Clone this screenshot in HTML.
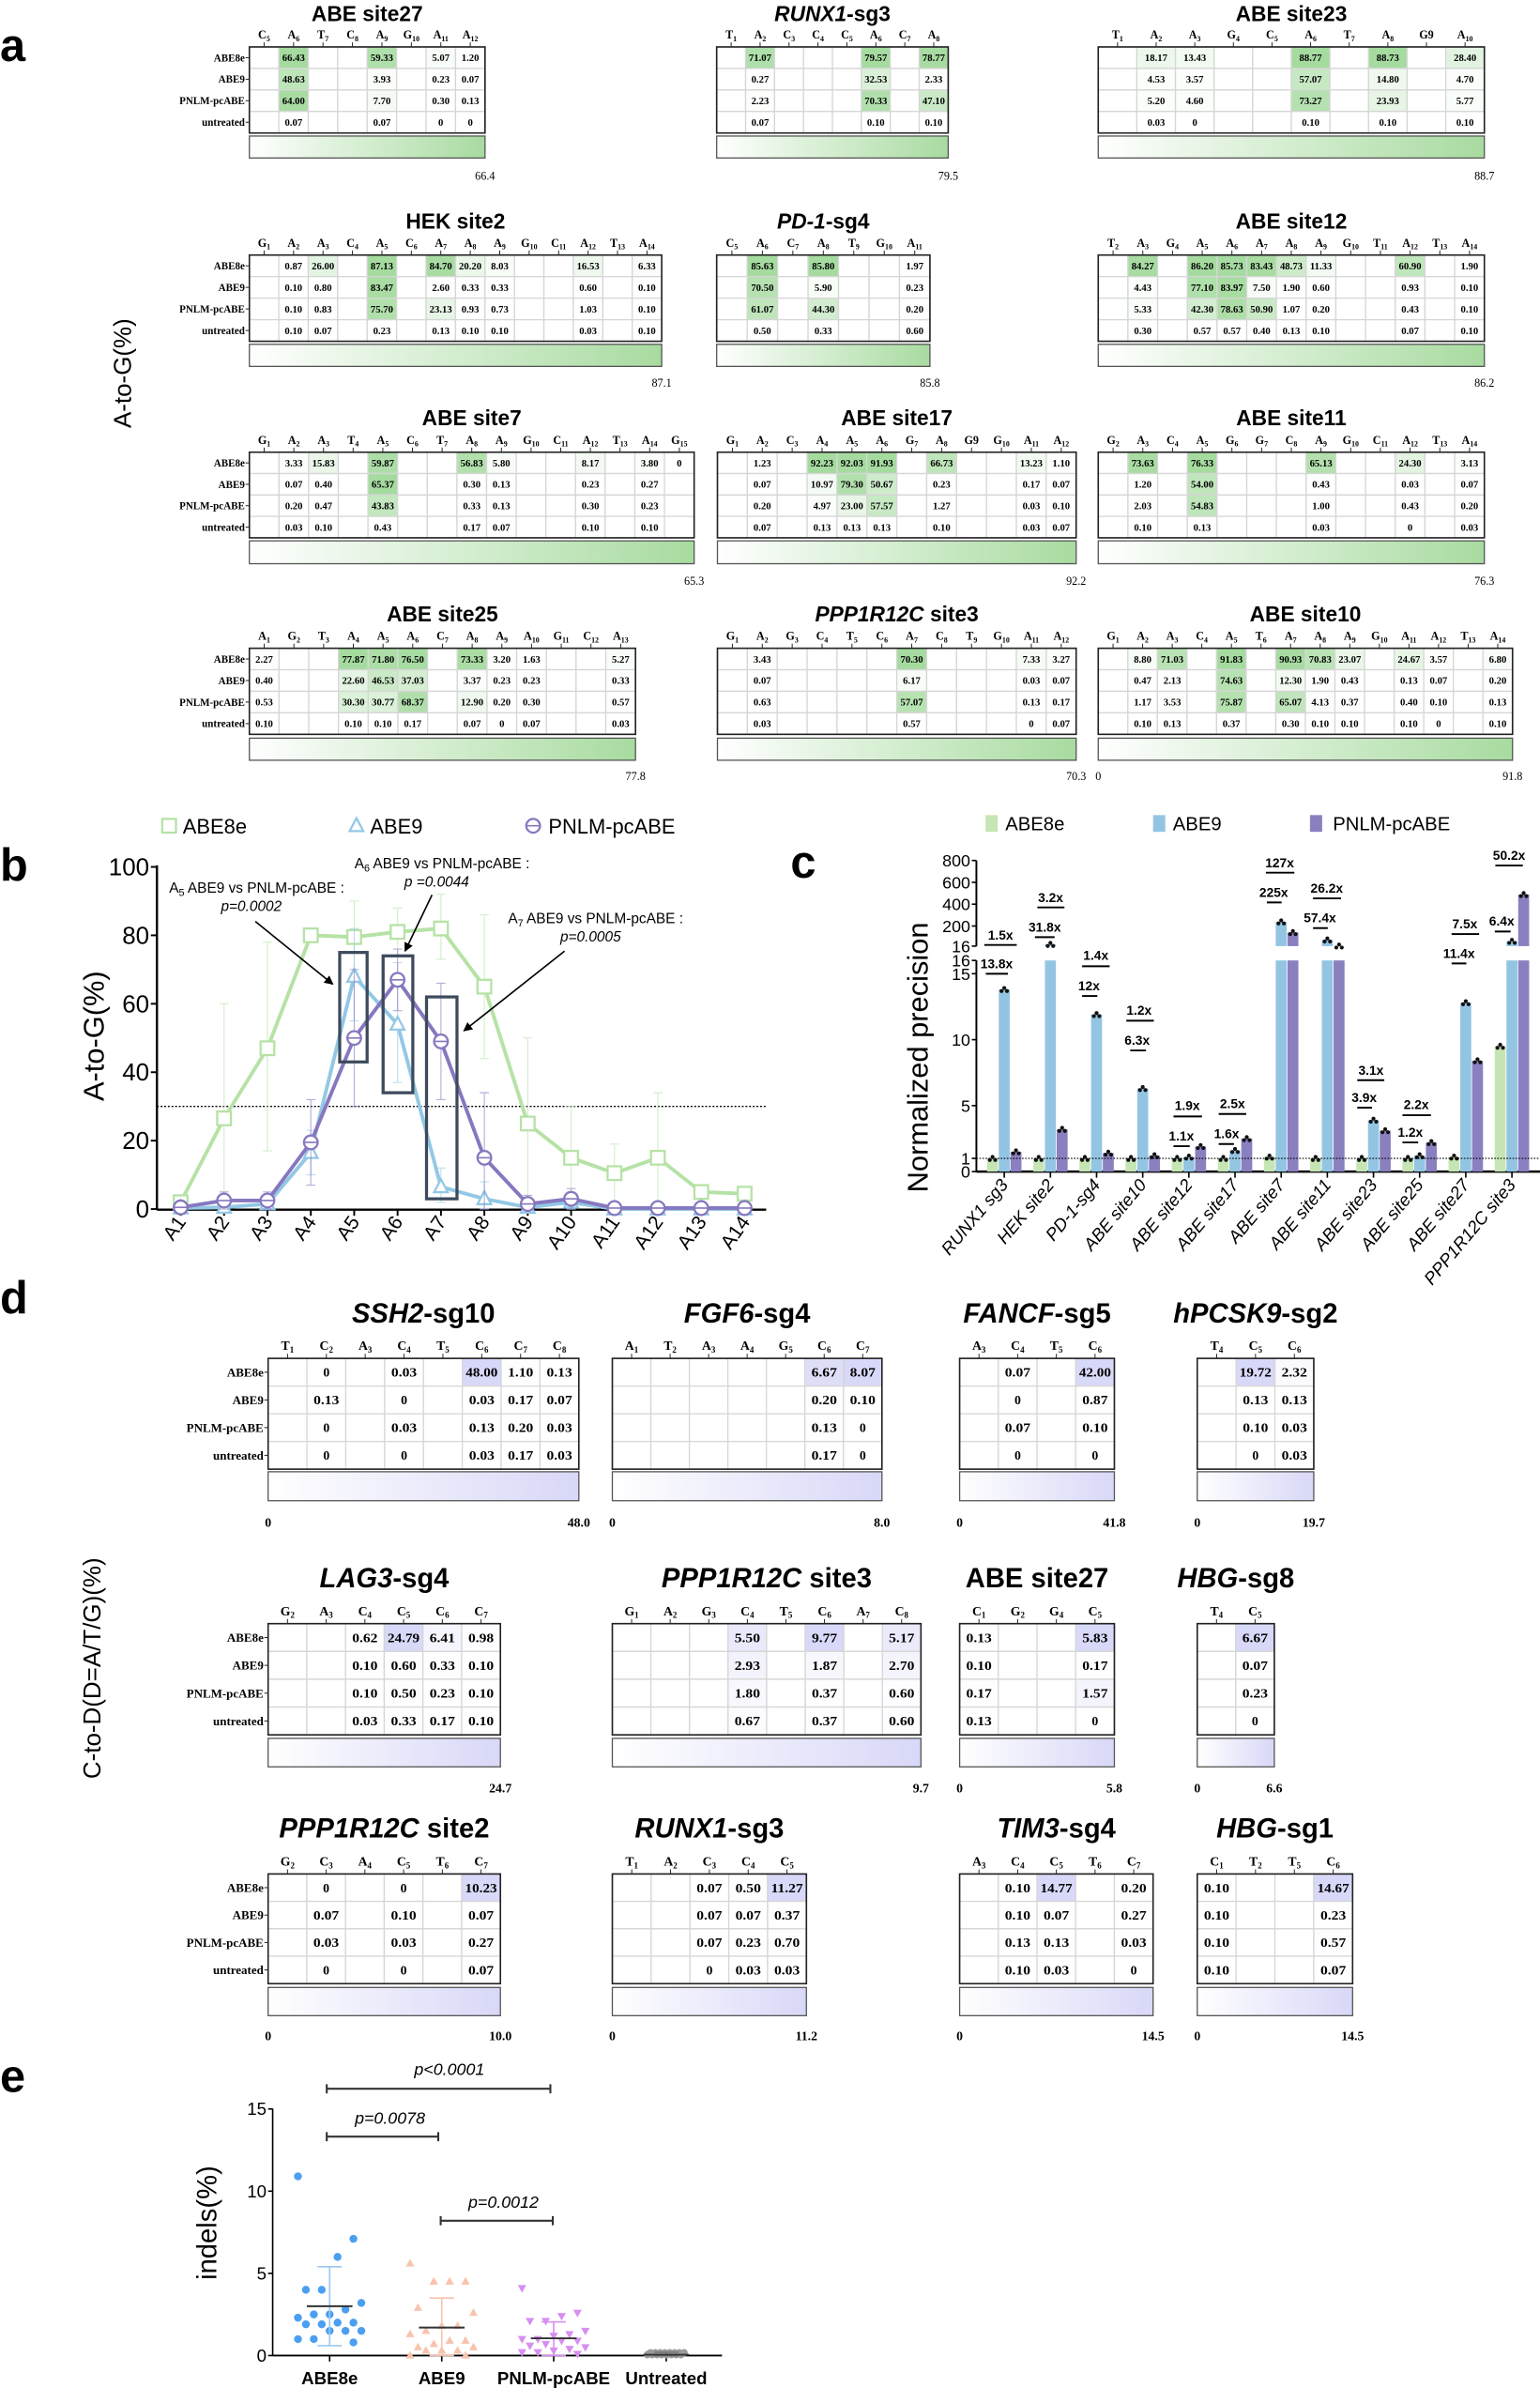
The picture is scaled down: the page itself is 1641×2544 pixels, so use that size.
<!DOCTYPE html>
<html><head><meta charset="utf-8"><style>
html,body{margin:0;padding:0;background:#fff}
svg{display:block}
</style></head><body>
<svg id="s" xmlns="http://www.w3.org/2000/svg" width="1641" height="2544" viewBox="0 0 1011 1567.4">
<defs>
<linearGradient id="gg" x1="0" x2="1" y1="0" y2="0"><stop offset="0" stop-color="#ffffff"/><stop offset="1" stop-color="#a8dba0"/></linearGradient>
<linearGradient id="gp" x1="0" x2="1" y1="0" y2="0"><stop offset="0" stop-color="#ffffff"/><stop offset="1" stop-color="#d8d8f8"/></linearGradient>
<marker id="ar" viewBox="0 0 10 10" refX="9" refY="5" markerWidth="6" markerHeight="6" orient="auto"><path d="M0,0 L10,5 L0,10 z" fill="#000"/></marker>
</defs>
<rect width="1011" height="1567.4" fill="#fff"/>
</svg>
<script>
const NS='http://www.w3.org/2000/svg';const S=document.getElementById('s');
function el(t,a,p,tx){const e=document.createElementNS(NS,t);for(const k in a)e.setAttribute(k,a[k]);if(tx!==undefined)e.textContent=tx;(p||S).appendChild(e);return e;}
function txt(x,y,s,a){a=Object.assign({x:x,y:y},a||{});return el('text',a,S,s);}
function sub(x,y,lab,a){const t=el('text',Object.assign({x:x,y:y},a));const m=lab.match(/^([A-Za-z])(\d*)$/);
 if(m&&m[2]&&lab!=='G9'){el('tspan',{},t,m[1]);el('tspan',{'font-size':'0.65em',dy:'1.8'},t,m[2]);}else t.textContent=lab;return t;}
function title(x,y,parts,fs){const t=el('text',{x:x,y:y,'text-anchor':'middle','font-family':'Liberation Sans, sans-serif','font-weight':'bold','font-size':fs});
 parts.forEach(p=>{el('tspan',p[1]?{'font-style':'italic'}:{},t,p[0]);});}
const RL=['ABE8e','ABE9','PNLM-pcABE','untreated'];
function heat(o){const n=o.cols.length,cw=o.w/n,rh=o.h/4;const C=o.pur?[216,216,248]:[166,219,160];
 title(o.x+o.w/2,o.ty,o.title,o.tfs);
 o.cols.forEach((c,i)=>{const cx=o.x+cw*(i+.5);el('line',{x1:cx,x2:cx,y1:o.y-3,y2:o.y,stroke:'#222','stroke-width':0.6});
  sub(cx,o.y-5.5,c,{'text-anchor':'middle','font-family':'Liberation Serif, serif','font-weight':'bold','font-size':o.hfs});});
 o.rows.forEach((r,j)=>{r.forEach((v,i)=>{const f=v===''?0:Math.min(1,v/o.max);const col='rgb('+C.map(c=>Math.round(255+(c-255)*f)).join(',')+')';
  el('rect',{x:o.x+cw*i,y:o.y+rh*j,width:cw,height:rh,fill:col,stroke:'#d6d6d6','stroke-width':0.8});
  if(v!==''){const s=(typeof v==='number')?(v===0?'0':v.toFixed(2)):v;const a={'text-anchor':'middle','font-family':'Liberation Serif, serif','font-weight':'bold','font-size':o.vfs};
   if(o.pur&&s.length>1){a.textLength=Math.min(s.length*4.2,cw-2);a.lengthAdjust='spacingAndGlyphs';}
   txt(o.x+cw*(i+.5),o.y+rh*j+rh/2+o.vfs*0.35,s,a);}});
  if(o.rl){el('line',{x1:o.x-2.5,x2:o.x,y1:o.y+rh*(j+.5),y2:o.y+rh*(j+.5),stroke:'#222','stroke-width':0.6});
   txt(o.x-3,o.y+rh*(j+.5)+o.rfs*0.35,RL[j],{'text-anchor':'end','font-family':'Liberation Serif, serif','font-weight':'bold','font-size':o.rfs});}});
 el('rect',{x:o.x,y:o.y,width:o.w,height:o.h,fill:'none',stroke:'#222','stroke-width':1});
 el('rect',{x:o.x,y:o.cy,width:o.w,height:o.ch,fill:o.pur?'url(#gp)':'url(#gg)',stroke:'#555','stroke-width':0.8});
 txt(o.x+o.w,o.ly,o.maxl,{'text-anchor':'middle','font-family':'Liberation Serif, serif','font-size':o.lfs,'font-weight':o.pur?'bold':'normal'});
 if(o.zero)txt(o.x,o.ly,'0',{'text-anchor':'middle','font-family':'Liberation Serif, serif','font-size':o.lfs,'font-weight':o.pur?'bold':'normal'});}

// ---------- Panel a ----------
const RA=[{ty:14,y:30.8,h:56.5,cy:89.3,ch:14.4,ly:118},{ty:150,y:167.4,h:56.6,cy:226,ch:14.5,ly:254},{ty:279,y:296.8,h:56.2,cy:355,ch:15,ly:384},{ty:408,y:425.5,h:56.5,cy:484.5,ch:14.5,ly:512}];
function A(r,x,w,t,cols,rows,max,rl,zero){const R=RA[r];heat({x:x,w:w,y:R.y,h:R.h,cy:R.cy,ch:R.ch,ly:R.ly,ty:R.ty,title:t,tfs:14,cols:cols,rows:rows,max:max,maxl:max.toFixed(1),rl:rl,zero:zero,hfs:7.5,vfs:6.6,rfs:6.8,lfs:7.5});}
const E='';
A(0,163.7,154.7,[['ABE site27']],['C5','A6','T7','C8','A9','G10','A11','A12'],[[E,66.43,E,E,59.33,E,5.07,1.20],[E,48.63,E,E,3.93,E,0.23,0.07],[E,64.00,E,E,7.70,E,0.30,0.13],[E,0.07,E,E,0.07,E,0,0]],66.4,true);
A(0,470.5,152,[['RUNX1',1],['-sg3']],['T1','A2','C3','C4','C5','A6','C7','A8'],[[E,71.07,E,E,E,79.57,E,78.77],[E,0.27,E,E,E,32.53,E,2.33],[E,2.23,E,E,E,70.33,E,47.10],[E,0.07,E,E,E,0.10,E,0.10]],79.5,false);
A(0,721,253.5,[['ABE site23']],['T1','A2','A3','G4','C5','A6','T7','A8','G9','A10'],[[E,18.17,13.43,E,E,88.77,E,88.73,E,28.40],[E,4.53,3.57,E,E,57.07,E,14.80,E,4.70],[E,5.20,4.60,E,E,73.27,E,23.93,E,5.77],[E,0.03,0,E,E,0.10,E,0.10,E,0.10]],88.7,false);
A(1,163.7,270.7,[['HEK site2']],['G1','A2','A3','C4','A5','C6','A7','A8','A9','G10','C11','A12','T13','A14'],[[E,0.87,26.00,E,87.13,E,84.70,20.20,8.03,E,E,16.53,E,6.33],[E,0.10,0.80,E,83.47,E,2.60,0.33,0.33,E,E,0.60,E,0.10],[E,0.10,0.83,E,75.70,E,23.13,0.93,0.73,E,E,1.03,E,0.10],[E,0.10,0.07,E,0.23,E,0.13,0.10,0.10,E,E,0.03,E,0.10]],87.1,true);
A(1,470.5,140,[['PD-1',1],['-sg4']],['C5','A6','C7','A8','T9','G10','A11'],[[E,85.63,E,85.80,E,E,1.97],[E,70.50,E,5.90,E,E,0.23],[E,61.07,E,44.30,E,E,0.20],[E,0.50,E,0.33,E,E,0.60]],85.8,false);
A(1,721,253.5,[['ABE site12']],['T2','A3','G4','A5','A6','A7','A8','A9','G10','T11','A12','T13','A14'],[[E,84.27,E,86.20,85.73,83.43,48.73,11.33,E,E,60.90,E,1.90],[E,4.43,E,77.10,83.97,7.50,1.90,0.60,E,E,0.93,E,0.10],[E,5.33,E,42.30,78.63,50.90,1.07,0.20,E,E,0.43,E,0.10],[E,0.30,E,0.57,0.57,0.40,0.13,0.10,E,E,0.07,E,0.10]],86.2,false);
A(2,163.7,292,[['ABE site7']],['G1','A2','A3','T4','A5','C6','T7','A8','A9','G10','C11','A12','T13','A14','G15'],[[E,3.33,15.83,E,59.87,E,E,56.83,5.80,E,E,8.17,E,3.80,0],[E,0.07,0.40,E,65.37,E,E,0.30,0.13,E,E,0.23,E,0.27,E],[E,0.20,0.47,E,43.83,E,E,0.33,0.13,E,E,0.30,E,0.23,E],[E,0.03,0.10,E,0.43,E,E,0.17,0.07,E,E,0.10,E,0.10,E]],65.3,true);
A(2,471,235.5,[['ABE site17']],['G1','A2','C3','A4','A5','A6','G7','A8','G9','G10','A11','A12'],[[E,1.23,E,92.23,92.03,91.93,E,66.73,E,E,13.23,1.10],[E,0.07,E,10.97,79.30,50.67,E,0.23,E,E,0.17,0.07],[E,0.20,E,4.97,23.00,57.57,E,1.27,E,E,0.03,0.10],[E,0.07,E,0.13,0.13,0.13,E,0.10,E,E,0.03,0.07]],92.2,false);
A(2,721,253.5,[['ABE site11']],['G2','A3','C4','A5','G6','G7','C8','A9','G10','C11','A12','T13','A14'],[[E,73.63,E,76.33,E,E,E,65.13,E,E,24.30,E,3.13],[E,1.20,E,54.00,E,E,E,0.43,E,E,0.03,E,0.07],[E,2.03,E,54.83,E,E,E,1.00,E,E,0.43,E,0.20],[E,0.10,E,0.13,E,E,E,0.03,E,E,0,E,0.03]],76.3,false);
A(3,163.7,253.5,[['ABE site25']],['A1','G2','T3','A4','A5','A6','C7','A8','A9','A10','G11','C12','A13'],[[2.27,E,E,77.87,71.80,76.50,E,73.33,3.20,1.63,E,E,5.27],[0.40,E,E,22.60,46.53,37.03,E,3.37,0.23,0.23,E,E,0.33],[0.53,E,E,30.30,30.77,68.37,E,12.90,0.20,0.30,E,E,0.57],[0.10,E,E,0.10,0.10,0.17,E,0.07,0,0.07,E,E,0.03]],77.8,true);
A(3,471,235.5,[['PPP1R12C',1],[' site3']],['G1','A2','G3','C4','T5','C6','A7','C8','T9','G10','A11','A12'],[[E,3.43,E,E,E,E,70.30,E,E,E,7.33,3.27],[E,0.07,E,E,E,E,6.17,E,E,E,0.03,0.07],[E,0.63,E,E,E,E,57.07,E,E,E,0.13,0.17],[E,0.03,E,E,E,E,0.57,E,E,E,0,0.07]],70.3,false);
A(3,721,272,[['ABE site10']],['G1','A2','A3','C4','A5','T6','A7','A8','A9','G10','A11','A12','T13','A14'],[[E,8.80,71.03,E,91.83,E,90.93,70.83,23.07,E,24.67,3.57,E,6.80],[E,0.47,2.13,E,74.63,E,12.30,1.90,0.43,E,0.13,0.07,E,0.20],[E,1.17,3.53,E,75.87,E,65.07,4.13,0.37,E,0.40,0.10,E,0.13],[E,0.10,0.13,E,0.37,E,0.30,0.10,0.10,E,0.10,0,E,0.10]],91.8,false,true);
txt(0,40,'a',{'font-family':'Liberation Sans, sans-serif','font-weight':'bold','font-size':30});
txt(0,0,'A-to-G(%)',{transform:'translate(86,245) rotate(-90)','text-anchor':'middle','font-family':'Liberation Sans, sans-serif','font-size':16});

// ---------- Panel b ----------
(function(){const X0=118.6,DX=28.48,yv=v=>793.6-v*2.246,xi=i=>X0+i*DX;const F='Liberation Sans, sans-serif';
txt(0,578,'b',{'font-family':F,'font-weight':'bold','font-size':30});
el('line',{x1:103,x2:103,y1:568,y2:794,stroke:'#000','stroke-width':1.5});el('line',{x1:103,x2:503,y1:794,y2:794,stroke:'#000','stroke-width':1.5});
[0,20,40,60,80,100].forEach(v=>{el('line',{x1:99,x2:103,y1:yv(v),y2:yv(v),stroke:'#000','stroke-width':1.2});txt(98,yv(v)+5.5,String(v),{'text-anchor':'end','font-family':F,'font-size':16});});
for(let i=0;i<14;i++){el('line',{x1:xi(i),x2:xi(i),y1:794,y2:798,stroke:'#000','stroke-width':1.2});txt(0,0,'A'+(i+1),{transform:'translate('+(xi(i)+4)+',802) rotate(-55)','text-anchor':'end','font-family':F,'font-size':13});}
txt(0,0,'A-to-G(%)',{transform:'translate(68,680) rotate(-90)','text-anchor':'middle','font-family':F,'font-size':19});
el('line',{x1:103,x2:503,y1:yv(30),y2:yv(30),stroke:'#000','stroke-width':0.8,'stroke-dasharray':'1.2,1.2'});
const D=[{c:'#b6e2a6',v:[2,26.5,47,80,79.5,81,82,65,25,15,10.5,15,5,4.5],e:[[0,4],[0,60],[17,78],[78,82],[69,90],[74,88],[73,92],[44,86],[0,50],[0,30],[2,19],[0,34],[4,6],[3,6]],m:'sq'},
{c:'#93c8e5',v:[0.3,0.5,1.5,16.5,68,54,6.5,3,0.5,2,0,0,0,0],e:[[0,1],[0,2],[0,4],[10,23],[55,82],[37,72],[2,12],[0,8],[0,3],[0,5],[0,1],[0,1],[0,1],[0,1]],m:'tr'},
{c:'#8777bf',v:[0.5,2.5,2.5,19.5,50,67,49,15,1.5,3,0.3,0.3,0.3,0.3],e:[[0,2],[0,5],[0,5],[7,32],[30,70],[58,76],[32,66],[0,34],[0,4],[0,6],[0,1],[0,1],[0,1],[0,1]],m:'ci'}];
D.forEach(d=>{d.e.forEach((e,i)=>{const x=xi(i);el('path',{d:'M'+x+','+yv(e[0])+'V'+yv(e[1])+'M'+(x-3)+','+yv(e[0])+'h6M'+(x-3)+','+yv(e[1])+'h6',stroke:d.c,'stroke-width':0.7,fill:'none',opacity:0.6});});
 el('polyline',{points:d.v.map((v,i)=>xi(i)+','+yv(v)).join(' '),fill:'none',stroke:d.c,'stroke-width':2.4});
 d.v.forEach((v,i)=>{mk(d.m,xi(i),yv(v),d.c);});});
function mk(m,x,y,c){const a={fill:'#fff',stroke:c,'stroke-width':1.4};if(m==='sq')el('rect',Object.assign({x:x-4.5,y:y-4.5,width:9,height:9},a));else if(m==='tr')el('path',Object.assign({d:'M'+x+','+(y-5)+'L'+(x+4.5)+','+(y+3.5)+'L'+(x-4.5)+','+(y+3.5)+'z'},a));else{el('circle',Object.assign({cx:x,cy:y,r:4.5},a));el('line',{x1:x-4,x2:x+4,y1:y,y2:y,stroke:c,'stroke-width':1});}}
mk('sq',111,542,'#b6e2a6');txt(120,547,'ABE8e',{'font-family':F,'font-size':13.5});
mk('tr',234,542,'#93c8e5');txt(243,547,'ABE9',{'font-family':F,'font-size':13.5});
mk('ci',350,542,'#8777bf');txt(360,547,'PNLM-pcABE',{'font-family':F,'font-size':13.5});
[[223,75,241,43],[251.5,74,271,34],[280,62,300,3]].forEach(b=>el('rect',{x:b[0],y:yv(b[1]),width:b[2]-b[0],height:yv(b[3])-yv(b[1]),fill:'none',stroke:'#3d4a5c','stroke-width':2}));
function ann(x,y,n,px,py,p){const t=el('text',{x:x,y:y,'font-family':F,'font-size':9.5});el('tspan',{},t,'A');el('tspan',{'font-size':'0.7em',dy:'2'},t,n);el('tspan',{dy:'-2'},t,' ABE9 vs PNLM-pcABE :');txt(px,py,p,{'text-anchor':'middle','font-family':F,'font-size':9.5,'font-style':'italic'});}
ann(111,586,'5',165,598,'p=0.0002');ann(232.7,570,'6',286.7,582,'p =0.0044');ann(333.5,606,'7',387.7,618,'p=0.0005');
[[167.6,604.8,218.5,646],[283.6,587.4,265.9,624.3],[370.6,624.3,304.5,676.6]].forEach(a=>el('line',{x1:a[0],y1:a[1],x2:a[2],y2:a[3],stroke:'#000','stroke-width':1,'marker-end':'url(#ar)'}));
})();

// ---------- Panel c ----------
(function(){const F='Liberation Sans, sans-serif';const yl=v=>769-v*8.66,yu=v=>621-(v-16)*(56.2/784);
txt(519,576,'c',{'font-family':F,'font-weight':'bold','font-size':30});
[['#c5e6b4',647,660,'ABE8e'],['#93c5e3',757,770,'ABE9'],['#8a80c0',860,875,'PNLM-pcABE']].forEach(l=>{el('rect',{x:l[1],y:535,width:8,height:11,fill:l[0]});txt(l[2],545,l[3],{'font-family':F,'font-size':12.5});});
el('line',{x1:641,x2:641,y1:564.8,y2:621,stroke:'#000','stroke-width':1.2});el('line',{x1:641,x2:641,y1:630.4,y2:769,stroke:'#000','stroke-width':1.2});
el('line',{x1:641,x2:1011,y1:769,y2:769,stroke:'#000','stroke-width':1.5});
[[800,yu(800)],[600,yu(600)],[400,yu(400)],[200,yu(200)],[16,621],[16,630.4],[15,yl(15)],[10,yl(10)],[5,yl(5)],[1,yl(1)],[0,769]].forEach(t=>{el('line',{x1:638,x2:641,y1:t[1],y2:t[1],stroke:'#000','stroke-width':1});txt(637,t[1]+4,String(t[0]),{'text-anchor':'end','font-family':F,'font-size':11,transform:'',});});
txt(0,0,'Normalized precision',{transform:'translate(609,694) rotate(-90)','text-anchor':'middle','font-family':F,'font-size':19});
const names=['RUNX1 sg3','HEK site2','PD-1-sg4','ABE site10','ABE site12','ABE site17','ABE site7','ABE site11','ABE site23','ABE site25','ABE site27','PPP1R12C site3'];
const G=[1,1,1,1,1,1,1.1,1,1,1,1.1,9.5],B=[13.8,31.8,11.9,6.3,1.1,1.6,238,72,3.9,1.2,12.8,60],P=[1.5,3.2,1.4,1.2,1.9,2.5,140,17,3.1,2.2,8.4,488];
const cols=['#c5e6b4','#93c5e3','#8a80c0'];
names.forEach((n,i)=>{const tx=659.3+i*30.3;[G[i],B[i],P[i]].forEach((v,k)=>{const bx=tx+(k-1)*7.7-3.6;
  if(v<=16)el('rect',{x:bx,y:yl(v),width:7.2,height:769-yl(v),fill:cols[k]});else{el('rect',{x:bx,y:630.4,width:7.2,height:138.6,fill:cols[k]});el('rect',{x:bx,y:yu(v),width:7.2,height:621-yu(v),fill:cols[k]});}
  const yy=v<=16?yl(v):yu(v);for(let d=-1;d<=1;d++)el('circle',{cx:bx+3.6+d*1.8,cy:yy+(d===0?-1:1),r:1.3,fill:'#111'});});
 el('line',{x1:tx,x2:tx,y1:769,y2:773,stroke:'#000','stroke-width':1});
 txt(0,0,n,{transform:'translate('+(tx+3)+',778) rotate(-50)','text-anchor':'end','font-family':F,'font-size':11.5,'font-style':'italic'});});
el('line',{x1:641,x2:1011,y1:yl(1),y2:yl(1),stroke:'#000','stroke-width':0.7,'stroke-dasharray':'1,1'});
const cv=z=>[(z[0]/1.91+820)/1.623,(z[1]/3+860)/1.623];
[['1.5x',470,408,440,437,503],['13.8x',462,500,532,440,485],['3.2x',572,288,320,545,600],['31.8x',560,383,415,540,580],['1.4x',664,473,508,636,692],['12x',650,570,603,636,667],['1.2x',752,648,682,726,782],['6.3x',748,744,777,734,766],['1.9x',850,953,988,822,880],['1.1x',838,1050,1083,822,855],['2.5x',942,947,980,914,970],['1.6x',930,1043,1076,914,945],['127x',1038,177,209,1010,1068],['225x',1026,272,304,1012,1042],['26.2x',1134,258,291,1106,1163],['57.4x',1120,353,386,1106,1136],['3.1x',1224,840,872,1196,1251],['3.9x',1210,927,960,1196,1226],['2.2x',1316,950,984,1288,1346],['1.2x',1304,1038,1071,1288,1320],['7.5x',1415,372,405,1388,1444],['11.4x',1403,467,499,1388,1418],['50.2x',1505,153,186,1477,1533],['6.4x',1490,363,397,1476,1508]].forEach(a=>{
 const t=cv([a[1],a[2]]),l1=cv([a[4],a[3]]),l2=cv([a[5],a[3]]);txt(t[0],t[1]+3,a[0],{'text-anchor':'middle','font-family':F,'font-weight':'bold','font-size':8.5});
 el('line',{x1:l1[0],x2:l2[0],y1:l1[1],y2:l1[1],stroke:'#000','stroke-width':1.2});});
})();

// ---------- Panel d ----------
txt(0,862,'d',{'font-family':'Liberation Sans, sans-serif','font-weight':'bold','font-size':30});
txt(0,0,'C-to-D(D=A/T/G)(%)',{transform:'translate(66,1095) rotate(-90)','text-anchor':'middle','font-family':'Liberation Sans, sans-serif','font-size':16});
const RD=[{ty:868,y:891.6,h:72.7,cy:966,ch:19,ly:1002},{ty:1042,y:1065.7,h:73,cy:1141,ch:18.7,ly:1176.5},{ty:1206,y:1230,h:72,cy:1304.5,ch:18.5,ly:1339}];
function Dh(r,x,w,t,cols,rows,max,rl,zero){const R=RD[r];heat({x:x,w:w,y:R.y,h:R.h,cy:R.cy,ch:R.ch,ly:R.ly,ty:R.ty,title:t,tfs:18,cols:cols,rows:rows,max:max,maxl:max.toFixed(1),rl:rl,zero:zero,hfs:8.5,vfs:8.5,rfs:8,lfs:8.5,pur:true});}
Dh(0,176,204,[['SSH2',1],['-sg10']],['T1','C2','A3','C4','T5','C6','C7','C8'],[[E,0,E,0.03,E,48.00,1.10,0.13],[E,0.13,E,0,E,0.03,0.17,0.07],[E,0,E,0.03,E,0.13,0.20,0.03],[E,0,E,0,E,0.03,0.17,0.03]],48.0,true,true);
Dh(0,402,177,[['FGF6',1],['-sg4']],['A1','T2','A3','A4','G5','C6','C7'],[[E,E,E,E,E,6.67,8.07],[E,E,E,E,E,0.20,0.10],[E,E,E,E,E,0.13,0],[E,E,E,E,E,0.17,0]],8.0,false,true);
Dh(0,630,101.6,[['FANCF',1],['-sg5']],['A3','C4','T5','C6'],[[E,0.07,E,42.00],[E,0,E,0.87],[E,0.07,E,0.10],[E,0,E,0]],41.8,false,true);
Dh(0,786,76.5,[['hPCSK9',1],['-sg2']],['T4','C5','C6'],[[E,19.72,2.32],[E,0.13,0.13],[E,0.10,0.03],[E,0,0.03]],19.7,false,true);
Dh(1,176,152.5,[['LAG3',1],['-sg4']],['G2','A3','C4','C5','C6','C7'],[[E,E,0.62,24.79,6.41,0.98],[E,E,0.10,0.60,0.33,0.10],[E,E,0.10,0.50,0.23,0.10],[E,E,0.03,0.33,0.17,0.10]],24.7,true,false);
Dh(1,402,202.6,[['PPP1R12C',1],[' site3']],['G1','A2','G3','C4','T5','C6','A7','C8'],[[E,E,E,5.50,E,9.77,E,5.17],[E,E,E,2.93,E,1.87,E,2.70],[E,E,E,1.80,E,0.37,E,0.60],[E,E,E,0.67,E,0.37,E,0.60]],9.7,false,false);
Dh(1,630,101.6,[['ABE site27']],['C1','G2','G4','C5'],[[0.13,E,E,5.83],[0.10,E,E,0.17],[0.17,E,E,1.57],[0.13,E,E,0]],5.8,false,true);
Dh(1,786,50.6,[['HBG',1],['-sg8']],['T4','C5'],[[E,6.67],[E,0.07],[E,0.23],[E,0]],6.6,false,true);
Dh(2,176,152.5,[['PPP1R12C',1],[' site2']],['G2','C3','A4','C5','T6','C7'],[[E,0,E,0,E,10.23],[E,0.07,E,0.10,E,0.07],[E,0.03,E,0.03,E,0.27],[E,0,E,0,E,0.07]],10.0,true,true);
Dh(2,402,127.4,[['RUNX1',1],['-sg3']],['T1','A2','C3','C4','C5'],[[E,E,0.07,0.50,11.27],[E,E,0.07,0.07,0.37],[E,E,0.07,0.23,0.70],[E,E,0,0.03,0.03]],11.2,false,true);
Dh(2,630,127,[['TIM3',1],['-sg4']],['A3','C4','C5','T6','C7'],[[E,0.10,14.77,E,0.20],[E,0.10,0.07,E,0.27],[E,0.13,0.13,E,0.03],[E,0.10,0.03,E,0]],14.5,false,true);
Dh(2,786,102,[['HBG',1],['-sg1']],['C1','T2','T5','C6'],[[0.10,E,E,14.67],[0.10,E,E,0.23],[0.10,E,E,0.57],[0.10,E,E,0.07]],14.5,false,true);

// ---------- Panel e ----------
(function(){const F='Liberation Sans, sans-serif';const yv=v=>1546.1-v*10.79;
txt(0,1373,'e',{'font-family':F,'font-weight':'bold','font-size':30});
el('line',{x1:179,x2:179,y1:1384,y2:1546,stroke:'#000','stroke-width':1});el('line',{x1:179,x2:474,y1:1546.1,y2:1546.1,stroke:'#000','stroke-width':1.2});
[0,5,10,15].forEach(v=>{el('line',{x1:176,x2:179,y1:yv(v),y2:yv(v),stroke:'#000','stroke-width':1});txt(175,yv(v)+4,String(v),{'text-anchor':'end','font-family':F,'font-size':11.5});});
txt(0,0,'indels(%)',{transform:'translate(142,1459) rotate(-90)','text-anchor':'middle','font-family':F,'font-size':18});
const gx=[216.4,290,363.5,437.4],gl=['ABE8e','ABE9','PNLM-pcABE','Untreated'];
gx.forEach((x,i)=>{el('line',{x1:x,x2:x,y1:1546,y2:1550,stroke:'#000','stroke-width':1});txt(x,1565,gl[i],{'text-anchor':'middle','font-family':F,'font-weight':'bold','font-size':11.5});});
function pts(x,vals,f){const n=vals.length;vals.forEach((v,k)=>{const dx=((k*7)%9-4)*5.2;f(x+dx,yv(v));});}
pts(216.4,[10.9,7.1,6,4,4,3.2,2.8,2.5,2.5,2.3,2,2,1.9,1.9,1.5,1.5,1.5,1,1,0.8],(x,y)=>el('circle',{cx:x,cy:y,r:2.6,fill:'#4b9ff0'}));
pts(290,[5.6,4.5,4.5,4.5,2.9,2.6,1.8,1.8,1.5,1.3,0.9,0.9,0.7,0.5,0.5,0.3,0.3,0.3,0,0],(x,y)=>el('path',{d:'M'+x+','+(y-3)+'l2.8,5h-5.6z',fill:'#f8c3ad'}));
pts(363.5,[4.1,2.6,2.4,2.1,2.1,1.5,1.3,1.2,1.0,1.0,0.9,0.9,0.7,0.6,0.5,0.4,0.3,0.2,0.2,0.1],(x,y)=>el('path',{d:'M'+x+','+(y+3)+'l2.8,-5h-5.6z',fill:'#d78ff0'}));
for(let k=0;k<24;k++)el('circle',{cx:425+k*1.05,cy:yv(0.05+(k%3)*0.06),r:2.4,fill:'#9a9a9a'});
[[216.4,3,0.6,5.4,'#9cc8f0'],[290,1.7,0,3.5,'#f8c3ad'],[363.5,1.05,0,2.05,'#d78ff0'],[437.4,0.05,0,0.2,'#777']].forEach(s=>{
 el('path',{d:'M'+s[0]+','+yv(s[2])+'V'+yv(s[3])+'M'+(s[0]-8)+','+yv(s[2])+'h16M'+(s[0]-8)+','+yv(s[3])+'h16',stroke:s[4],'stroke-width':1,fill:'none'});
 el('line',{x1:s[0]-15,x2:s[0]+15,y1:yv(s[1]),y2:yv(s[1]),stroke:'#333','stroke-width':1.2});});
[[214.5,361.3,1371,295,1362,'p<0.0001'],[214.5,287.7,1402.4,256,1394,'p=0.0078'],[289.3,362.9,1457.6,330.5,1449,'p=0.0012']].forEach(b=>{
 el('path',{d:'M'+b[0]+','+(b[2]-3)+'V'+(b[2]+3)+'M'+b[0]+','+b[2]+'H'+b[1]+'M'+b[1]+','+(b[2]-3)+'V'+(b[2]+3),stroke:'#333','stroke-width':1.3,fill:'none'});
 txt(b[3],b[4],b[5],{'text-anchor':'middle','font-family':F,'font-style':'italic','font-size':11});});
})();
</script>
</body></html>
